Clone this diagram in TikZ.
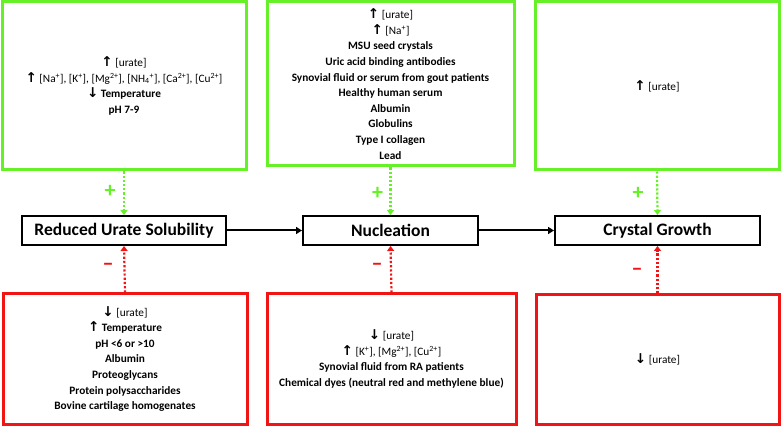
\documentclass[tikz,border=0pt]{standalone}
\usepackage{fontspec}
\setmainfont{Carlito}
\newfontfamily\arrowfont[Scale=1.2]{DejaVu Sans}
\usetikzlibrary{arrows.meta}
\definecolor{grn}{RGB}{102,240,40}
\definecolor{rd}{RGB}{240,20,20}
\newcommand{\up}{{\arrowfont\bfseries ↑}}
\newcommand{\dn}{{\arrowfont\bfseries ↓}}
\newcommand{\ion}[2]{[#1\textsuperscript{#2}]}
\begin{document}
\begin{tikzpicture}[x=1pt,y=-1pt,
  gbox/.style={draw=grn,line width=3pt,align=center,inner sep=0pt,font=\fontsize{11.3}{15.6}\selectfont\bfseries},
  rbox/.style={draw=rd,line width=3pt,align=center,inner sep=0pt,font=\fontsize{11.3}{15.6}\selectfont\bfseries},
  title/.style={draw=black,line width=2pt,align=center,inner sep=0pt,font=\fontsize{17.5}{19}\selectfont\bfseries},
  gcon/.style={draw=grn,line width=2.2pt,dotted,-{Triangle[length=5pt,width=7pt]}},
  rcon/.style={draw=rd,line width=2.2pt,dotted,-{Triangle[length=5pt,width=7pt]}},
  flow/.style={draw=black,line width=2pt,-{Triangle[length=6pt,width=7pt]}},
  sgn/.style={font=\fontsize{22}{22}\selectfont\bfseries,inner sep=0pt}
]
\useasboundingbox (0,0) rectangle (781,427);
\fill[white] (0,0) rectangle (781,427);
% top boxes
\node[gbox,minimum width=244pt,minimum height=168pt] (TL) at (124,86) {%
\up\ \mdseries[urate]\\
\up\ \mdseries\ion{Na}{+}, \ion{K}{+}, \ion{Mg}{2+}, [NH\textsubscript{4}\textsuperscript{+}], \ion{Ca}{2+}, \ion{Cu}{2+}\\
\dn\ Temperature\\
pH 7-9};
\node[gbox,minimum width=247pt,minimum height=164pt] (TM) at (390.5,84) {%
\up\ \mdseries[urate]\\
\up\ \mdseries\ion{Na}{+}\\
MSU seed crystals\\
Uric acid binding antibodies\\
Synovial fluid or serum from gout patients\\
Healthy human serum\\
Albumin\\
Globulins\\
Type I collagen\\
Lead};
\node[gbox,minimum width=244pt,minimum height=168pt] (TR) at (657,86) {\up\ \mdseries[urate]};
% middle
\node[title,minimum width=204pt,minimum height=29pt] (ML) at (124,230.5) {Reduced Urate Solubility};
\node[title,minimum width=175pt,minimum height=29pt] (MM) at (390.5,230.5) {Nucleation};
\node[title,minimum width=205pt,minimum height=29pt] (MR) at (657.5,230.5) {Crystal Growth};
% bottom boxes
\node[rbox,minimum width=244pt,minimum height=130pt] (BL) at (125,359) {%
\dn\ \mdseries[urate]\\
\up\ Temperature\\
pH <6 or >10\\
Albumin\\
Proteoglycans\\
Protein polysaccharides\\
Bovine cartilage homogenates};
\node[rbox,minimum width=249pt,minimum height=130pt] (BM) at (391.5,359) {%
\dn\ \mdseries[urate]\\
\up\ \mdseries\ion{K}{+}, \ion{Mg}{2+}, \ion{Cu}{2+}\\
Synovial fluid from RA patients\\
Chemical dyes (neutral red and methylene blue)};
\node[rbox,minimum width=243pt,minimum height=129pt] (BR) at (657.5,359.5) {\dn\ \mdseries[urate]};
% connectors
\draw[flow] (ML) -- (MM);
\draw[flow] (MM) -- (MR);
\draw[gcon] (TL.south) -- (ML.north);
\draw[gcon] (TM.south) -- (MM.north);
\draw[gcon] (TR.south) -- (MR.north);
\draw[rcon] (BL.north) -- (ML.south);
\draw[rcon] (BM.north) -- (MM.south);
\draw[rcon] (BR.north) -- (MR.south);
% signs
\node[sgn,text=grn] (p1) at (110,191) {+};
\node[sgn,text=grn] (p2) at (377.5,193) {+};
\node[sgn,text=grn] (p3) at (638,193) {+};
\node[sgn,text=rd] (m1) at (108,267) {–};
\node[sgn,text=rd] (m2) at (377,267) {–};
\node[sgn,text=rd] (m3) at (637,272) {–};
\end{tikzpicture}
\end{document}
